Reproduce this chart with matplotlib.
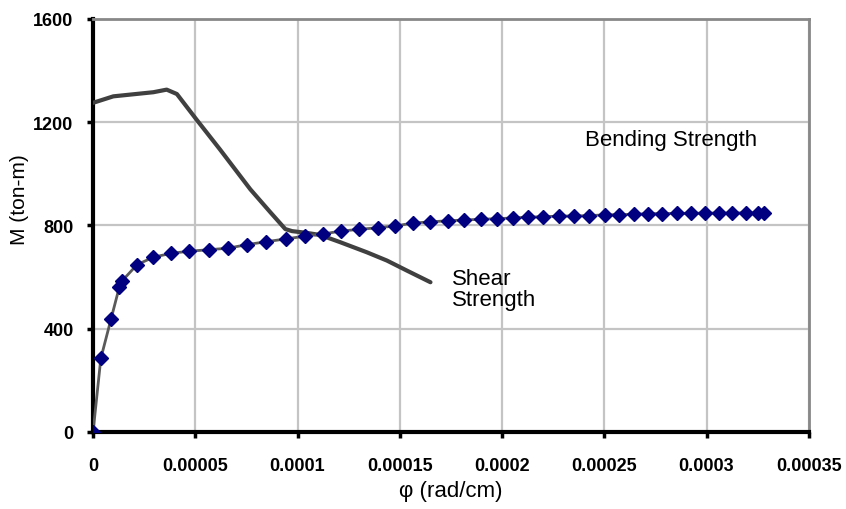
import matplotlib
matplotlib.use("Agg")
import matplotlib.pyplot as plt
from matplotlib.ticker import FixedLocator

plt.rcParams['font.family'] = ['Liberation Sans', 'DejaVu Sans']

# Bending strength (moment-curvature) data
bend_phi = [0, 3.8e-6, 8.8e-6, 1.29e-5, 1.43e-5, 2.15e-5, 2.95e-5, 3.82e-5, 4.68e-5,
            5.66e-5, 6.62e-5, 7.54e-5, 8.48e-5, 9.43e-5, 1.034e-4, 1.124e-4, 1.212e-4,
            1.302e-4, 1.392e-4, 1.478e-4, 1.563e-4, 1.65e-4, 1.734e-4, 1.814e-4,
            1.896e-4, 1.973e-4, 2.052e-4, 2.126e-4, 2.2e-4, 2.278e-4, 2.35e-4,
            2.427e-4, 2.503e-4, 2.571e-4, 2.645e-4, 2.715e-4, 2.784e-4, 2.857e-4,
            2.925e-4, 2.992e-4, 3.06e-4, 3.126e-4, 3.194e-4, 3.25e-4, 3.28e-4]
bend_M = [0, 285, 438, 563, 586, 648, 677, 692, 700,
          706, 712, 726, 737, 748, 758, 767, 778,
          785, 791, 798, 809, 814, 818, 821,
          824, 826, 829, 832, 834, 836, 837,
          838, 841, 842, 843, 846, 846, 847,
          847, 848, 848, 848, 849, 848, 848]

# Shear strength data
shear_phi = [0, 2e-6, 9.9e-6, 2.95e-5, 3.6e-5, 4.1e-5, 5.06e-5, 6.2e-5,
             7.69e-5, 8.67e-5, 9.4e-5, 9.73e-5, 1.046e-4, 1.111e-4, 1.209e-4,
             1.339e-4, 1.437e-4, 1.535e-4, 1.65e-4]
shear_M = [1275, 1280, 1300, 1316, 1326, 1309, 1210, 1095,
           940, 851, 786, 778, 771, 763, 735,
           696, 664, 625, 580]

x_ticks = [0, 0.00005, 0.0001, 0.00015, 0.0002, 0.00025, 0.0003, 0.00035]
x_tick_labels = ['0', '0.00005', '0.0001', '0.00015', '0.0002', '0.00025', '0.0003', '0.00035']
y_ticks = [0, 400, 800, 1200, 1600]

fig = plt.figure(figsize=(8.46, 5.10), dpi=100)
ax = fig.add_axes([0.110, 0.151, 0.846, 0.810])

ax.plot(shear_phi, shear_M, color='#404040', lw=3, solid_capstyle='round',
        solid_joinstyle='round', zorder=3)
ax.plot(bend_phi, bend_M, color='#5a5a5a', lw=2, marker='D', markersize=7,
        markerfacecolor='#000080', markeredgecolor='#000080', zorder=4)

ax.set_xlim(0, 0.00035)
ax.set_ylim(0, 1600)
ax.xaxis.set_major_locator(FixedLocator(x_ticks))
ax.set_xticklabels(x_tick_labels)
ax.yaxis.set_major_locator(FixedLocator(y_ticks))
ax.set_yticklabels([str(v) for v in y_ticks])

ax.grid(True, color='#c4c4c4', lw=1.6)
ax.set_axisbelow(True)

for s in ['left', 'bottom']:
    ax.spines[s].set_color('black')
    ax.spines[s].set_linewidth(3)
for s in ['top', 'right']:
    ax.spines[s].set_color('#888888')
    ax.spines[s].set_linewidth(2)

ax.tick_params(axis='both', direction='out', length=4, width=2.5, color='black',
               labelsize=13)
ax.tick_params(axis='x', pad=14)
ax.tick_params(axis='y', pad=10)
for lab in ax.get_xticklabels() + ax.get_yticklabels():
    lab.set_fontweight('bold')

ax.set_xlabel('φ (rad/cm)', fontsize=16)
ax.xaxis.set_label_coords(0.5, -0.117)
ax.set_ylabel('M (ton-m)', fontsize=15)
ax.yaxis.set_label_coords(-0.090, 0.564)

ax.text(0.0002408, 1131, 'Bending Strength', fontsize=16, va='center', ha='left')
ax.text(0.0001757, 635, 'Shear\nStrength', fontsize=16, va='top', ha='left', linespacing=1.0)

fig.savefig('out.png', dpi=100)
